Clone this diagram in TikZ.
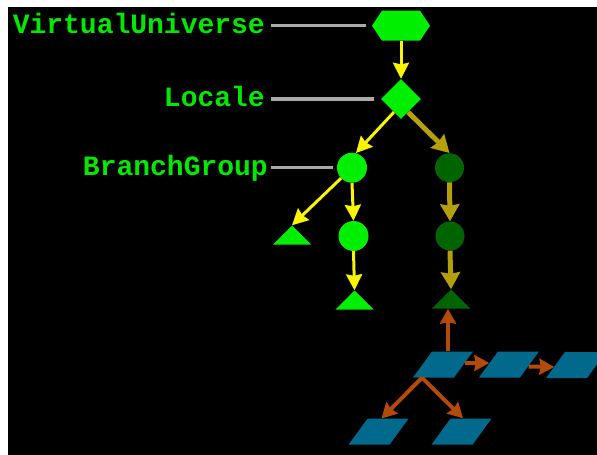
\documentclass[tikz,border=0pt]{standalone}
\usepackage{fontspec}
\setmonofont{Liberation Mono}
\usetikzlibrary{arrows.meta,calc,shapes.geometric}
\definecolor{bgreen}{RGB}{0,238,0}
\definecolor{tgreen}{RGB}{0,232,0}
\definecolor{dgreen}{RGB}{0,100,0}
\definecolor{yel}{RGB}{252,245,0}
\definecolor{olv}{RGB}{180,160,10}
\definecolor{brn}{RGB}{178,74,10}
\definecolor{pblue}{RGB}{0,105,140}
\definecolor{lgray}{RGB}{170,170,170}
\begin{document}
\begin{tikzpicture}[x=1pt,y=-1pt,
  lbl/.style={font=\ttfamily\bfseries\fontsize{28}{30}\selectfont, text=tgreen, inner sep=0pt, anchor=base east},
  gline/.style={draw=lgray, line width=3.5pt},
  hexnode/.style={minimum width=58pt, minimum height=30pt, inner sep=0pt,
    path picture={\fill[#1] (path picture bounding box.west)
      -- ($(path picture bounding box.north west)+(10pt,0pt)$)
      -- ($(path picture bounding box.north east)+(-10pt,0pt)$)
      -- (path picture bounding box.east)
      -- ($(path picture bounding box.south east)+(-10pt,0pt)$)
      -- ($(path picture bounding box.south west)+(10pt,0pt)$) -- cycle;}},
  tri/.style={minimum width=38pt, minimum height=19pt, inner sep=0pt,
    path picture={\fill[#1] (path picture bounding box.south west)
      -- (path picture bounding box.south east)
      -- (path picture bounding box.north) -- cycle;}},
  circ/.style={circle, fill=#1, minimum size=30pt, inner sep=0pt},
  dcirc/.style={circle, fill=dgreen, minimum size=29pt, inner sep=0pt},
  dia/.style={diamond, fill=bgreen, minimum width=40pt, minimum height=40pt, inner sep=0pt},
  par/.style={minimum width=60pt, minimum height=26pt, inner sep=0pt,
    path picture={\fill[pblue] (path picture bounding box.south west)
      -- ($(path picture bounding box.south west)+(41pt,0pt)$)
      -- (path picture bounding box.north east)
      -- ($(path picture bounding box.north east)+(-41pt,0pt)$) -- cycle;}},
  yarr/.style={draw=yel, line width=3pt, -{Stealth[length=16pt,width=16pt,inset=1.5pt]}},
  oarr/.style={draw=olv, line width=5pt, -{Stealth[length=17pt,width=19pt,inset=1.5pt]}},
  barr/.style={draw=brn, line width=4pt, -{Stealth[length=15pt,width=16pt,inset=1.5pt]}}
]
\useasboundingbox (0,0) rectangle (597,455);
\fill[white] (0,0) rectangle (597,455);
\fill[black] (8,7) rectangle (597,455);

% nodes
\node[hexnode=bgreen] (vu) at (401,25.7) {};
\node[dia] (lo) at (401,99) {};
\node[circ=bgreen] (bg1) at (352,167.7) {};
\node[dcirc] (bg2) at (449.5,167.7) {};
\node[tri=bgreen] (t1) at (292,235) {};
\node[circ=bgreen] (c3) at (353.5,236) {};
\node[tri=bgreen] (t2) at (354.5,300) {};
\node[dcirc] (c4) at (450,236) {};
\node[tri=dgreen] (t3) at (451,299) {};
\node[par] (p1) at (443,364.5) {};
\node[par] (p2) at (509,364.5) {};
\node[par] (p3) at (576,365) {};
\node[par] (p4) at (378.5,431.7) {};
\node[par] (p5) at (461.6,431.5) {};

% labels
\node[lbl] (vulbl) at (265,33.3) {VirtualUniverse};
\node[lbl] (lolbl) at (265,106.5) {Locale};
\node[lbl] (bglbl) at (268,175) {BranchGroup};

\draw[gline] ($(vulbl.east |- vu.west)+(6,0)$) -- ($(vu.west)+(-6,0)$);
\draw[gline] ($(lolbl.east |- lo.west)+(6,0)$) -- ($(lo.west)+(-7,0)$);
\draw[gline] ($(bglbl.east |- bg1.west)+(3,0)$) -- ($(bg1.west)+(-4,0)$);

% yellow / olive connectors
\draw[yarr] (vu.south) -- (lo.north);
\draw[yarr] ($(lo.south)!0.35!(lo.west)$) -- (bg1.75);
\draw[oarr] ($(lo.south)!0.35!(lo.east)$) -- (bg2.north);
\draw[yarr] (bg1) -- (t1.north);
\draw[yarr] (bg1.south) -- (c3.north);
\draw[yarr] (c3.south) -- (t2.north);
\draw[oarr] (bg2.south) -- (c4.north);
\draw[oarr] (c4.south) -- (t3.north);

% brown connectors
\draw[barr] ($(p1.north)+(5,0)$) -- ($(t3.south)+(-3,0)$);
\draw[barr] ($(p1.east)+(-8.5,-1.5)$) -- ($(p2.west)+(10.5,-1.5)$);
\draw[barr] ($(p2.east)+(-10.5,2)$) -- ($(p3.west)+(8.5,2)$);
\draw[barr] ($(p1.south)+(-21,0)$) -- ($(p4.north)+(3,0)$);
\draw[barr] ($(p1.south)+(-21,0)$) -- ($(p5.north)+(1.5,0)$);
\end{tikzpicture}
\end{document}
